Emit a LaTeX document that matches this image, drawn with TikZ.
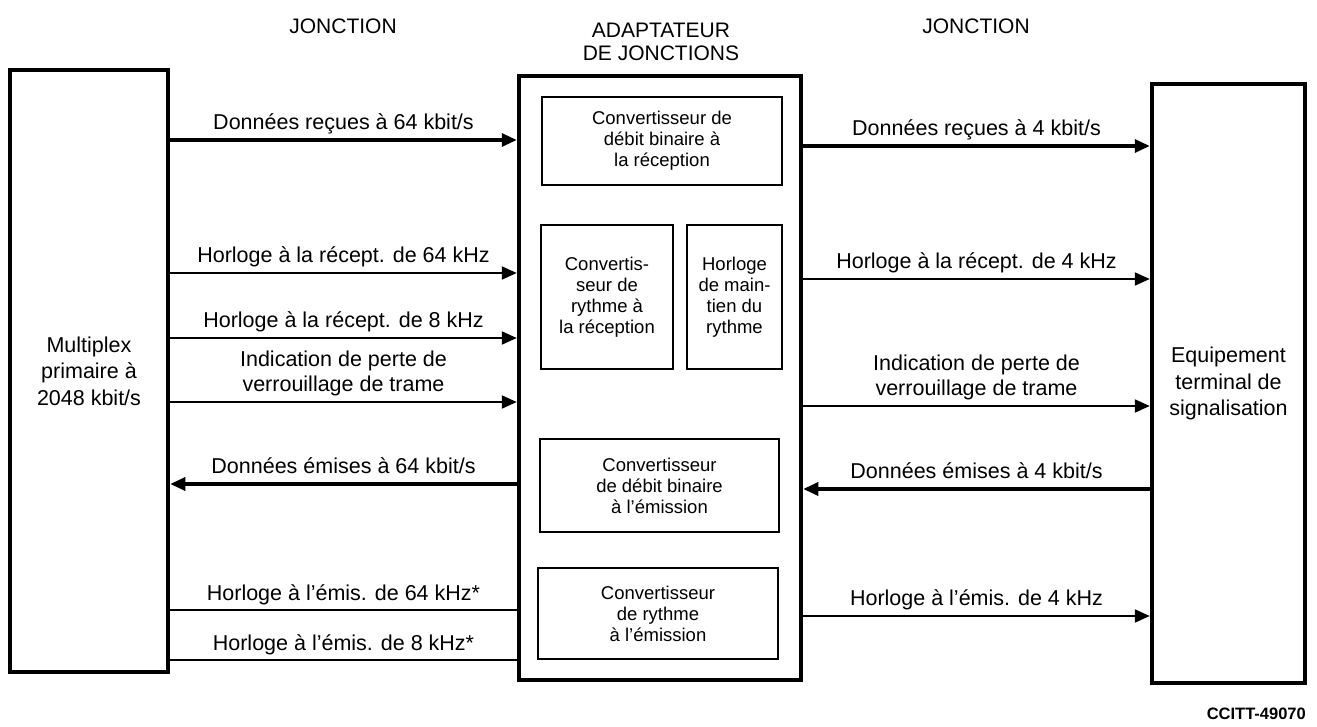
\documentclass[tikz,border=0pt]{standalone}
\usepackage{fontspec}
\setmainfont{Liberation Sans}
\usetikzlibrary{arrows.meta}
\begin{document}
\begin{tikzpicture}[x=1pt,y=-1pt,
  outerbox/.style={draw, line width=4.5pt, inner sep=0pt, align=center,
    font=\fontsize{21.5}{26.5}\selectfont},
  innerbox/.style={draw, line width=2.2pt, inner sep=0pt, align=center,
    font=\fontsize{18.5}{21}\selectfont},
  head/.style={inner sep=0pt, align=center, font=\fontsize{21}{23}\selectfont},
  lab/.style={inner sep=0pt, align=center, text depth=5pt,
    font=\fontsize{21.5}{25}\selectfont},
  dat/.style={line width=3.2pt},
  clk/.style={line width=2.1pt},
  thin/.style={line width=1.6pt},
  tip/.style={-{Triangle[length=15pt,width=13pt]}},
  tipb/.style={{Triangle[length=15pt,width=13pt]}-}
]
\useasboundingbox (0,0) rectangle (1317,727);

% main boxes
\node[outerbox, minimum width=158pt, minimum height=602pt] (mux) at (89,371)
  {Multiplex\\primaire à\\2048 kbit/s};
\node[outerbox, minimum width=282pt, minimum height=604pt] (adapt) at (660,378) {};
\node[outerbox, minimum width=153pt, minimum height=599pt] (term) at (1228.5,383.5)
  {Equipement\\terminal de\\signalisation};

% headings
\node[head] (h1) at (343,26) {JONCTION};
\node[head] (h2) at (661,42) {ADAPTATEUR\\DE JONCTIONS};
\node[head] (h3) at (976,26) {JONCTION};

% inner boxes
\node[innerbox, minimum width=240pt, minimum height=88pt] (rxconv) at (662,141)
  {Convertisseur de\\débit binaire à\\la réception};
\node[innerbox, minimum width=132pt, minimum height=144pt] (rythrx) at (607,297)
  {Convertis-\\seur de\\rythme à\\la réception};
\node[innerbox, minimum width=95pt, minimum height=144pt] (horl) at (734.5,297)
  {Horloge\\de main-\\tien du\\rythme};
\node[innerbox, minimum width=239pt, minimum height=93pt] (txconv) at (659.5,485.5)
  {Convertisseur\\de débit binaire\\à l’émission};
\node[innerbox, minimum width=240pt, minimum height=91pt] (rytx) at (658,613.5)
  {Convertisseur\\de rythme\\à l’émission};

% left junction
\draw[dat,tip] (mux.east |- 0,140) -- node[lab,above=4pt]{Données reçues à 64 kbit/s} (adapt.west |- 0,140);
\draw[clk,tip] (mux.east |- 0,273) -- node[lab,above=4pt]{Horloge à la récept. de 64 kHz} (adapt.west |- 0,273);
\draw[clk,tip] (mux.east |- 0,338) -- node[lab,above=4pt]{Horloge à la récept. de 8 kHz} (adapt.west |- 0,338);
\draw[clk,tip] (mux.east |- 0,402) -- node[lab,above=4pt]{Indication de perte de\\verrouillage de trame} (adapt.west |- 0,402);
\draw[dat,tipb] (mux.east |- 0,484) -- node[lab,above=4pt]{Données émises à 64 kbit/s} (adapt.west |- 0,484);
\draw[thin] (mux.east |- 0,610) -- node[lab,above=4pt]{Horloge à l’émis. de 64 kHz*} (adapt.west |- 0,610);
\draw[thin] (mux.east |- 0,660) -- node[lab,above=4pt]{Horloge à l’émis. de 8 kHz*} (adapt.west |- 0,660);

% right junction
\draw[dat,tip] (adapt.east |- 0,146) -- node[lab,above=4pt]{Données reçues à 4 kbit/s} (term.west |- 0,146);
\draw[clk,tip] (adapt.east |- 0,279) -- node[lab,above=4pt]{Horloge à la récept. de 4 kHz} (term.west |- 0,279);
\draw[clk,tip] (adapt.east |- 0,406) -- node[lab,above=4pt]{Indication de perte de\\verrouillage de trame} (term.west |- 0,406);
\draw[dat,tipb] (adapt.east |- 0,489) -- node[lab,above=4pt]{Données émises à 4 kbit/s} (term.west |- 0,489);
\draw[clk,tip] (adapt.east |- 0,616) -- node[lab,above=4pt]{Horloge à l’émis. de 4 kHz} (term.west |- 0,616);

% reference
\node[inner sep=0pt, anchor=east, font=\fontsize{16.5}{18}\selectfont\bfseries] (ref) at (1306,714) {CCITT-49070};
\end{tikzpicture}
\end{document}
